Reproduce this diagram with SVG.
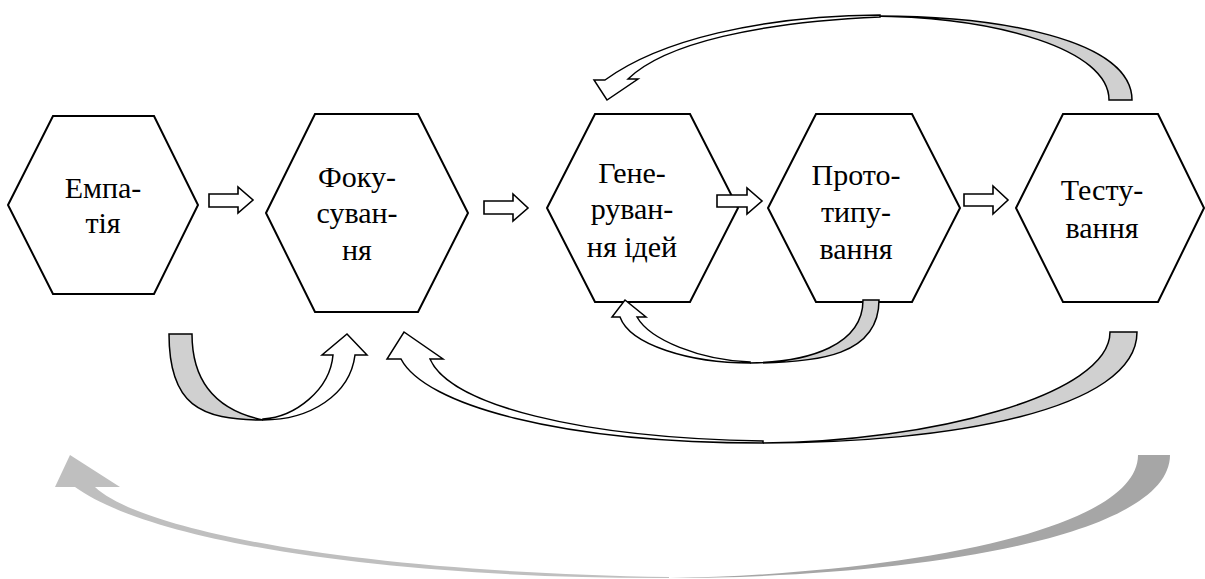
<svg xmlns="http://www.w3.org/2000/svg" width="1205" height="579" viewBox="0 0 1205 579">
<style>
.hex{fill:#fff;stroke:#000;stroke-width:2;stroke-linejoin:miter}
.lbl{font-family:"Liberation Serif","DejaVu Serif",serif;font-size:30px;fill:#000;text-anchor:middle}
.blk{fill:#fff;stroke:#000;stroke-width:1.6;stroke-linejoin:miter}
.front{fill:#fff;stroke:#000;stroke-width:1.5;stroke-linejoin:miter}
.back{fill:#d0d0d0;stroke:#000;stroke-width:1.5;stroke-linejoin:miter}
.gl{fill:#bfbfbf}
.gd{fill:#a6a6a6}
</style>
<rect width="1205" height="579" fill="#fff"/>
<g id="node-empathy">
<polygon class="hex" points="8,205 53,116 154,116 198,205 154,294 53,294"/>
<text class="lbl" x="103" y="198">Емпа-</text>
<text class="lbl" x="103" y="233">тія</text>
</g>
<g id="node-focus">
<polygon class="hex" points="266,213 315,114 418,114 468,213 418,312 315,312"/>
<text class="lbl" x="357" y="187">Фоку-</text>
<text class="lbl" x="357" y="223">суван-</text>
<text class="lbl" x="357" y="260">ня</text>
</g>
<g id="node-ideate">
<polygon class="hex" points="547,208 595,114 690,114 738,208 690,302 595,302"/>
<text class="lbl" x="632" y="183">Гене-</text>
<text class="lbl" x="632" y="219">руван-</text>
<text class="lbl" x="632" y="257">ня ідей</text>
</g>
<g id="node-prototype">
<polygon class="hex" points="768,208 816,114 912,114 960,208 912,302 816,302"/>
<text class="lbl" x="856" y="185">Прото-</text>
<text class="lbl" x="856" y="222">типу-</text>
<text class="lbl" x="856" y="259">вання</text>
</g>
<g id="node-test">
<polygon class="hex" points="1016,208 1063,114 1158,114 1204,208 1158,302 1063,302"/>
<text class="lbl" x="1102" y="200">Тесту-</text>
<text class="lbl" x="1102" y="238">вання</text>
</g>
<g id="connectors">
<polygon class="blk" points="209,194 238,194 238,187 253,200 238,213 238,207 209,207"/>
<polygon class="blk" points="484,201 513,201 513,194 528,208 513,221 513,214 484,214"/>
<polygon class="blk" points="717,195 747,195 747,188 762,201 747,214 747,207 717,207"/>
<polygon class="blk" points="964,194 993,194 993,186 1008,200 993,214 993,206 964,206"/>
<path class="back" d="M 1109,100 C 1109,50 1000,17 870,16 C 1000,15 1132,40 1132,100 Z"/>
<path class="front" d="M 880,15 C 760,16 660,40 605,80 L 594,80 L 607,100 L 638,79 L 628,79 C 665,43 760,22 880,17 Z"/>
<path class="back" d="M 1110,332 L 1137,332 C 1137,410 950,443 763,443 C 930,442 1110,395 1110,332 Z"/>
<path class="front" d="M 763,443 C 560,443 425,405 401,359 L 387,359 L 404,332 L 443,359 L 430,359 C 450,405 580,438 763,441 Z"/>
<path class="back" d="M 192,334 L 169,334 C 169,405 200,420 263,420 C 225,412 192,390 192,334 Z"/>
<path class="front" d="M 263,420 C 310,420 350,395 355,355 L 367,355 L 347,334 L 322,355 L 333,355 C 330,390 295,417 263,419 Z"/>
<path class="back" d="M 863,300 L 879,300 C 879,355 820,363 750,363 C 810,362 863,345 863,300 Z"/>
<path class="front" d="M 750,363 C 690,363 630,345 620,317 L 612,317 L 625,300 L 646,317 L 637,317 C 650,340 700,360 750,362 Z"/>
<path class="gd" d="M 1138,455 L 1170,455 C 1170,540 900,578 669,578 C 880,575 1138,535 1138,455 Z"/>
<path class="gl" d="M 669,578 C 420,579 160,548 75,487 L 55,487 L 70,455 L 120,487 L 95,487 C 140,530 350,572 669,577 Z"/>
</g>
</svg>
